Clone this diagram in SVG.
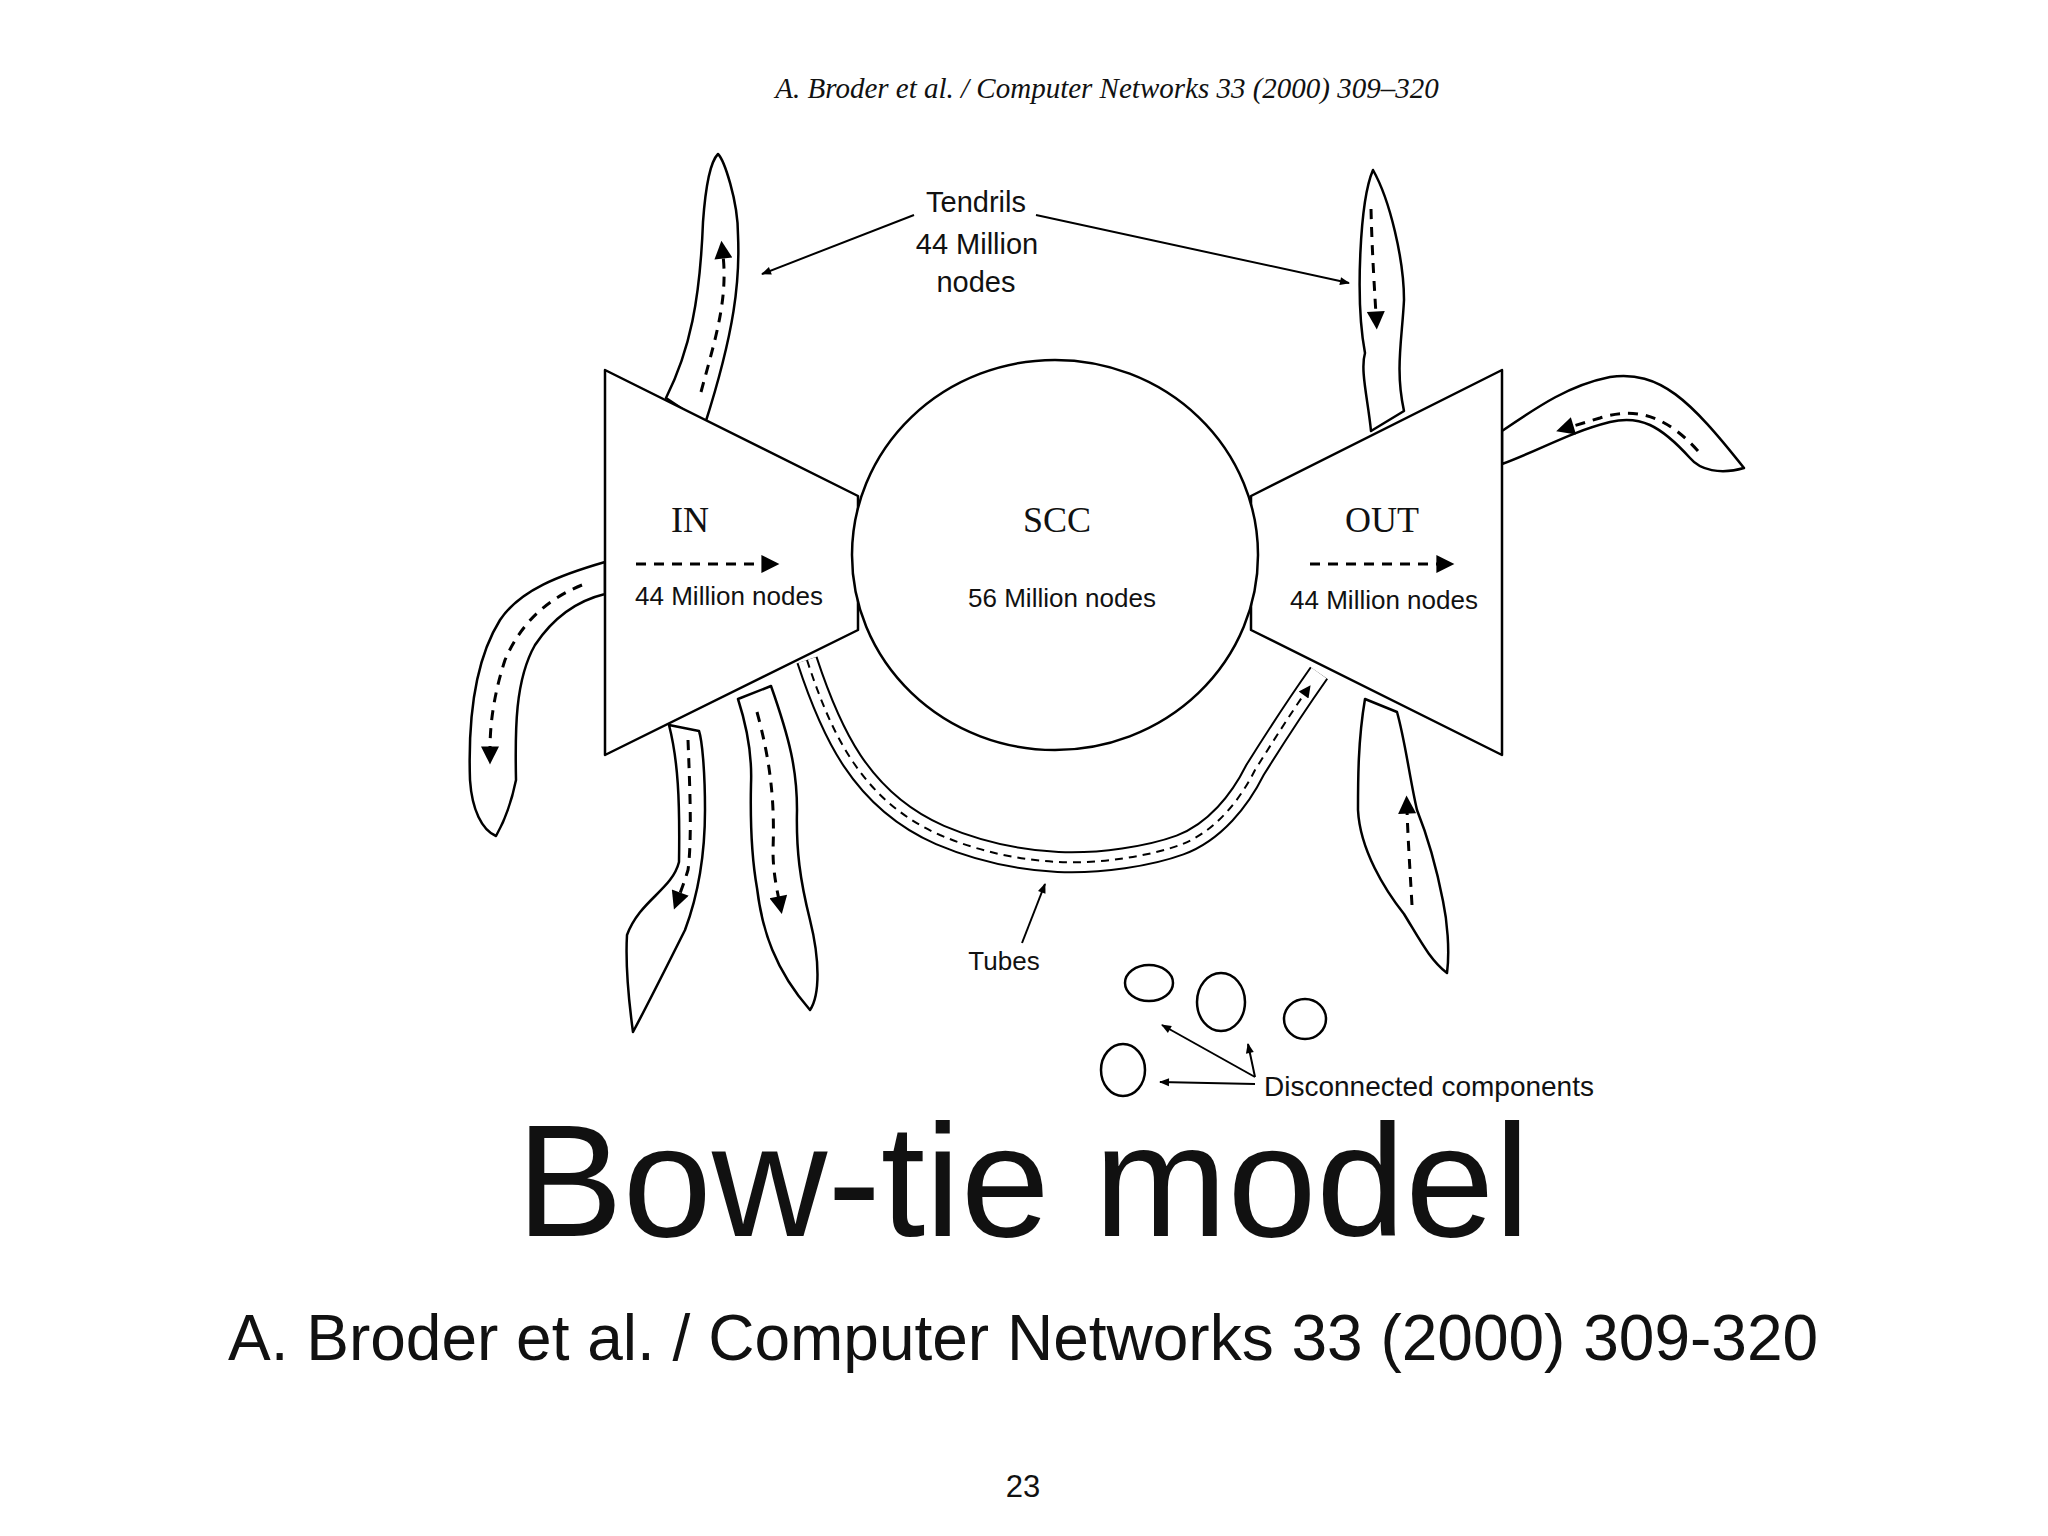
<svg xmlns="http://www.w3.org/2000/svg" width="2048" height="1536" viewBox="0 0 2048 1536">
<style>
.o{fill:#fff;stroke:#000;stroke-width:2.5;stroke-linejoin:round}
.d{fill:none;stroke:#000;stroke-width:3;stroke-dasharray:10 8;marker-end:url(#ah)}
.t{font-family:"Liberation Sans",Arial,sans-serif;fill:#111}
.s{font-family:"Liberation Serif","Times New Roman",serif;fill:#111}
.l{fill:none;stroke:#000;stroke-width:2;marker-end:url(#sa)}
</style>
<defs>
<marker id="ah" viewBox="0 0 10 10" refX="2" refY="5" markerWidth="10" markerHeight="6" orient="auto" markerUnits="strokeWidth"><path d="M0,0L10,5L0,10z" fill="#000"/></marker>
<marker id="sa" viewBox="0 0 10 10" refX="9" refY="5" markerWidth="6" markerHeight="5" orient="auto" markerUnits="strokeWidth"><path d="M0,1L10,5L0,9z" fill="#000"/></marker>
</defs>
<rect width="2048" height="1536" fill="#fff"/>
<text class="s" x="1107" y="98" font-size="29" font-style="italic" text-anchor="middle">A. Broder et al. / Computer Networks 33 (2000) 309–320</text>
<g id="tendrils">
<path class="o" d="M666,398 C690,350 700,300 703,222 C706,180 712,160 718,154 C724,160 738,200 738,235 C740,280 735,330 705,424 Z"/>
<path class="d" d="M701,392 C715,340 728,300 723,255"/>
<path class="o" d="M1371,431 C1368,400 1360,370 1365,353 C1355,300 1360,200 1373,170 C1390,200 1404,260 1404,300 C1402,340 1395,370 1404,411 Z"/>
<path class="d" d="M1371,209 C1372,250 1374,280 1376,315"/>
<path class="o" d="M1502,431 C1540,405 1570,385 1610,377 C1660,370 1690,400 1744,468 C1720,475 1700,470 1690,458 C1660,425 1640,415 1610,422 C1570,432 1540,450 1502,464 Z"/>
<path class="d" d="M1698,451 C1670,420 1640,405 1600,418 C1590,421 1580,424 1570,427"/>
<path class="o" d="M605,562 C560,575 520,590 500,620 C475,660 468,720 470,780 C472,810 482,830 496,836 C505,820 512,800 516,780 C515,730 515,680 535,645 C555,615 580,600 605,594 Z"/>
<path class="d" d="M582,585 C545,600 520,625 505,660 C492,700 490,730 490,750"/>
<path class="o" d="M669,725 C678,760 680,800 679,862 C672,890 640,900 627,935 C625,970 630,1010 633,1032 C650,1000 670,960 685,930 C700,890 705,850 705,810 C705,770 702,740 699,731 Z"/>
<path class="d" d="M688,740 C690,790 692,840 688,870 C685,880 682,888 679,896"/>
<path class="o" d="M738,699 C748,730 752,760 751,784 C750,830 752,860 757,888 C762,930 775,970 810,1010 C820,995 820,960 810,920 C800,880 796,850 797,810 C797,770 790,740 771,686 Z"/>
<path class="d" d="M757,712 C770,760 775,800 773,850 C773,870 776,885 779,900"/>
<path class="o" d="M1365,699 C1358,740 1358,780 1358,810 C1360,850 1385,890 1404,914 C1420,940 1430,960 1447,973 C1450,950 1447,920 1443,901 C1435,860 1425,830 1417,810 C1410,780 1405,740 1397,712 Z"/>
<path class="d" d="M1412,905 C1410,870 1408,840 1407,810"/>
</g>
<g id="tubes">
<path d="M807,660 C830,730 860,800 940,835 C980,852 1020,860 1058,862 C1100,864 1150,856 1180,845 C1215,832 1240,800 1255,770 C1280,730 1300,700 1319,673" fill="none" stroke="#000" stroke-width="22"/>
<path d="M807,660 C830,730 860,800 940,835 C980,852 1020,860 1058,862 C1100,864 1150,856 1180,845 C1215,832 1240,800 1255,770 C1280,730 1300,700 1319,673" fill="none" stroke="#fff" stroke-width="18"/>
<path d="M807,660 C830,730 860,800 940,835 C980,852 1020,860 1058,862 C1100,864 1150,856 1180,845 C1215,832 1240,800 1255,770 C1280,730 1300,700 1305,693" fill="none" stroke="#000" stroke-width="2" stroke-dasharray="8 6" marker-end="url(#ah)"/>
</g>
<g id="in"><path class="o" stroke-width="3.5" d="M605,370L858,496L858,630L605,755Z"/>
<text class="s" x="690" y="532" font-size="36" text-anchor="middle">IN</text>
<line class="d" x1="636" y1="564" x2="765" y2="564"/>
<text class="t" x="729" y="605" font-size="26" text-anchor="middle">44 Million nodes</text></g>
<g id="out"><path class="o" stroke-width="3.5" d="M1502,370L1251,496L1251,630L1502,755Z"/>
<text class="s" x="1382" y="532" font-size="36" text-anchor="middle">OUT</text>
<line class="d" x1="1310" y1="564" x2="1440" y2="564"/>
<text class="t" x="1384" y="609" font-size="26" text-anchor="middle">44 Million nodes</text></g>
<g id="scc"><ellipse class="o" stroke-width="3.5" cx="1055" cy="555" rx="203" ry="195"/>
<text class="s" x="1057" y="532" font-size="36" text-anchor="middle">SCC</text>
<text class="t" x="1062" y="607" font-size="26" text-anchor="middle">56 Million nodes</text></g>
<g id="tendril-label">
<text class="t" x="976" y="212" font-size="29" text-anchor="middle">Tendrils</text>
<text class="t" x="977" y="254" font-size="29" text-anchor="middle">44 Million</text>
<text class="t" x="976" y="292" font-size="29" text-anchor="middle">nodes</text></g>
<g id="tubes-label"><text class="t" x="1004" y="970" font-size="26" text-anchor="middle">Tubes</text></g>
<g id="disconnected">
<ellipse class="o" stroke-width="4" cx="1149" cy="983" rx="24" ry="18"/>
<ellipse class="o" stroke-width="4" cx="1221" cy="1002" rx="24" ry="29"/>
<ellipse class="o" stroke-width="4" cx="1305" cy="1019" rx="21" ry="20"/>
<ellipse class="o" stroke-width="4" cx="1123" cy="1070" rx="22" ry="26"/>
<text class="t" x="1264" y="1096" font-size="28">Disconnected components</text></g>
<g id="connectors">
<line class="l" x1="914" y1="215" x2="762" y2="274"/>
<line class="l" x1="1036" y1="215" x2="1349" y2="283"/>
<line class="l" x1="1022" y1="943" x2="1045" y2="884"/>
<line class="l" x1="1255" y1="1077" x2="1162" y2="1025"/>
<line class="l" x1="1255" y1="1077" x2="1248" y2="1044"/>
<line class="l" x1="1255" y1="1084" x2="1160" y2="1082"/>
</g>
<text class="t" x="1023" y="1236" font-size="160" text-anchor="middle" fill="#000">Bow-tie model</text>
<text class="t" x="1023" y="1360" font-size="64" text-anchor="middle" fill="#000">A. Broder et al. / Computer Networks 33 (2000) 309-320</text>
<text class="t" x="1023" y="1497" font-size="31" text-anchor="middle" fill="#000">23</text>
</svg>
